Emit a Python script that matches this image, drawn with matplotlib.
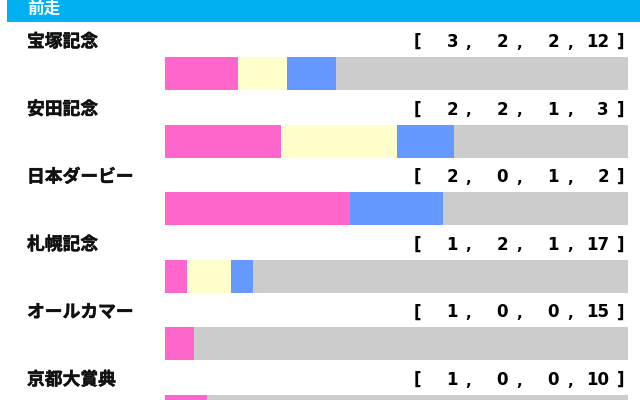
import matplotlib.pyplot as plt
import matplotlib.patheffects as pe
import numpy as np

plt.rcParams['font.family'] = ['Noto Sans CJK JP', 'DejaVu Sans']

# data
races = ["宝塚記念", "安田記念", "日本ダービー", "札幌記念", "オールカマー", "京都大賞典"]
first = [3, 2, 2, 1, 1, 1]
second = [2, 2, 0, 2, 0, 0]
third = [2, 1, 1, 1, 0, 0]
other = [12, 3, 2, 17, 15, 10]
header = "前走"

colors = ["#ff66cc", "#ffffcc", "#6699ff", "#cccccc"]

fig = plt.figure(figsize=(6.4, 4.0), dpi=100)

# background axes in pixel units for header and text
bg = fig.add_axes([0, 0, 1, 1])
bg.set_xlim(0, 640)
bg.set_ylim(400, 0)
bg.axis("off")

heavy = [pe.withStroke(linewidth=0.35, foreground="#111111")]

bg.add_patch(plt.Rectangle((7, -5), 640, 27, color="#00b0f0", lw=0))
bg.text(27, 9, header, color="white", fontsize=12, fontweight="bold",
        va="center", ha="left")

row0 = 42
pitch = 67.6
num_right = [458, 508, 559, 609]
comma_x = [468, 519, 570]

for i, name in enumerate(races):
    y = row0 + pitch * i
    bg.text(27, y, name, fontsize=12.8, fontweight="bold", va="center", ha="left",
            color="#111111", path_effects=heavy)
    vals = [first[i], second[i], third[i], other[i]]
    bg.text(417, y, "[", fontsize=12, fontweight="bold", va="center", ha="center",
            family="DejaVu Sans")
    bg.text(621, y, "]", fontsize=12, fontweight="bold", va="center", ha="center",
            family="DejaVu Sans")
    for v, xr in zip(vals, num_right):
        bg.text(xr, y, str(v), fontsize=12, fontweight="bold", va="center",
                ha="right", family="DejaVu Sans")
    for xc in comma_x:
        bg.text(xc, y + 1, ",", fontsize=11, fontweight="bold", va="center",
                ha="center", family="DejaVu Sans")

# bars axes: x in share of runs, y in pixels
bars = fig.add_axes([165 / 640, 0, (628 - 165) / 640, 1])
bars.set_xlim(0, 1)
bars.set_ylim(400, 0)
bars.axis("off")

data = np.array([first, second, third, other], dtype=float)
totals = data.sum(axis=0)
centers = row0 + 31.5 + pitch * np.arange(len(races))
left = np.zeros(len(races))
for k in range(4):
    frac = data[k] / totals
    bars.barh(centers, frac, left=left, height=33, color=colors[k], lw=0)
    left += frac

fig.savefig("out.png", dpi=100)
